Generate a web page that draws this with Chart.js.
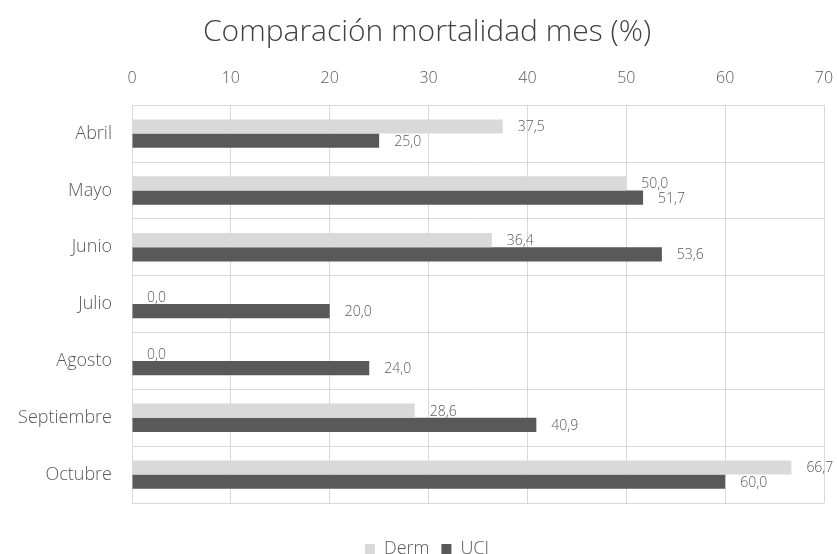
<!DOCTYPE html>
<html>
<head>
<meta charset="utf-8">
<script src="https://cdn.jsdelivr.net/npm/chart.js@4.4.1/dist/chart.umd.min.js"></script>
<style>
    html, body { margin: 0; padding: 0; background: #fff; }
    #wrap { width: 837px; height: 554px; }
</style>
</head>
<body>
<div id="wrap"><canvas id="myChart"></canvas></div>
<script>
var meses = ['Abril', 'Mayo', 'Junio', 'Julio', 'Agosto', 'Septiembre', 'Octubre'];
var derm = [37.5, 50.0, 36.4, 0.0, 0.0, 28.6, 66.7];
var uci = [25.0, 51.7, 53.6, 20.0, 24.0, 40.9, 60.0];
var ejeMin = 0, ejeMax = 70, ejePaso = 10;

var FONT = '"Open Sans", "DejaVu Sans", sans-serif';
var GRIS = '#595959';

// numbers at the end of each bar, decimal comma
const etiquetasBarras = {
    id: 'etiquetasBarras',
    afterDatasetsDraw(chart) {
        const ctx = chart.ctx;
        ctx.save();
        ctx.font = '300 14px ' + FONT;
        ctx.fillStyle = GRIS;
        ctx.textAlign = 'left';
        ctx.textBaseline = 'middle';
        chart.data.datasets.forEach(function(ds, i) {
            chart.getDatasetMeta(i).data.forEach(function(bar, j) {
                var txt = ds.data[j].toFixed(1).replace('.', ',');
                ctx.fillText(txt, bar.x + 15, bar.y + 1);
            });
        });
        ctx.restore();
    }
};

// let the month names use the left margin too (labels are clipped to the axis box)
const ejeIzq = {
    id: 'ejeIzq',
    afterLayout(chart) {
        chart.scales.y.left = 0;
    }
};

const ctx = document.getElementById('myChart');
var myChart = new Chart(ctx, {
    type: 'bar',
    data: {
        labels: meses,
        datasets: [{
                label: 'Derm',
                data: derm,
                backgroundColor: '#d9d9d9',
                categoryPercentage: 0.5,
                barPercentage: 1
            },
            {
                label: 'UCI',
                data: uci,
                backgroundColor: '#595959',
                categoryPercentage: 0.5,
                barPercentage: 1
            }
        ]
    },
    options: {
        indexAxis: 'y',
        responsive: true,
        maintainAspectRatio: false,
        animation: false,
        layout: {
            padding: { left: 30, right: 13, top: 0, bottom: -14 }
        },
        scales: {
            x: {
                position: 'top',
                min: ejeMin,
                max: ejeMax,
                ticks: {
                    stepSize: ejePaso,
                    color: GRIS,
                    padding: 17,
                    font: { family: FONT, size: 16, weight: '300' }
                },
                grid: { color: '#d9d9d9', drawTicks: false },
                border: { color: '#d9d9d9' },
                afterFit: function(scale) {
                    scale.paddingLeft = 0;
                    scale.paddingRight = 0;
                }
            },
            y: {
                ticks: {
                    color: GRIS,
                    padding: 20,
                    font: { family: FONT, size: 18, weight: '300' }
                },
                grid: { color: '#d9d9d9', drawTicks: false, offset: true },
                border: { color: '#d9d9d9' },
                afterFit: function(scale) {
                    scale.width = 102;
                }
            }
        },
        plugins: {
            title: {
                display: true,
                text: 'Comparación mortalidad mes (%)',
                color: '#404040',
                font: { family: FONT, size: 30, weight: '300' },
                padding: { top: 14, bottom: 2 }
            },
            legend: {
                position: 'bottom',
                title: {
                    display: true,
                    text: '',
                    font: { size: 10 },
                    padding: { top: 13, bottom: 0 }
                },
                labels: {
                    boxWidth: 10,
                    boxHeight: 10,
                    padding: 12,
                    color: GRIS,
                    font: { family: FONT, size: 18, weight: '300' }
                }
            },
            tooltip: { enabled: false }
        }
    },
    plugins: [etiquetasBarras, ejeIzq]
});
</script>
</body>
</html>
